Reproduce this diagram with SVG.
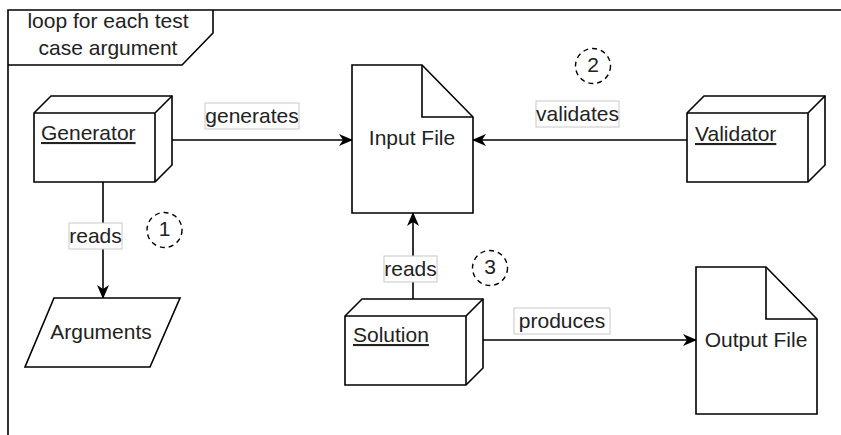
<svg xmlns="http://www.w3.org/2000/svg" width="841" height="435" viewBox="0 0 841 435">
<style>
.s{fill:#fff;stroke:#000;stroke-width:1.6;stroke-linejoin:miter}
.t{font-family:"Liberation Sans",Arial,sans-serif;font-size:21px;fill:#222}
.c{text-anchor:middle}
.u{text-decoration:underline}
.lb{fill:#fff;stroke:#c8c8c8;stroke-width:1}
.ln{fill:none;stroke:#000;stroke-width:1.6}
.dc{fill:none;stroke:#000;stroke-width:1.4;stroke-dasharray:5 4}
</style>
<defs>
<marker id="arr" viewBox="0 0 14 12" refX="13" refY="6" markerWidth="14" markerHeight="12" markerUnits="userSpaceOnUse" orient="auto">
<path d="M0,0 L14,6 L0,12 L4,6 Z" fill="#000"/>
</marker>
</defs>
<rect width="841" height="435" fill="#fff"/>
<g id="frame">
<path d="M8,435 L8,10 L841,10" class="ln" stroke-width="2"/>
<path d="M8,65 L182,65 L213,33 L213,10" class="ln"/>
<text class="t c" x="108" y="28">loop for each test</text>
<text class="t c" x="108" y="55">case argument</text>
</g>
<g id="connectors">
<path d="M172,140 L352,140" class="ln" marker-end="url(#arr)"/>
<path d="M687,140 L473,140" class="ln" marker-end="url(#arr)"/>
<path d="M103,182 L103,298" class="ln" marker-end="url(#arr)"/>
<path d="M413,299 L413,213" class="ln" marker-end="url(#arr)"/>
<path d="M483,340 L696,340" class="ln" marker-end="url(#arr)"/>
<rect class="lb" x="205" y="103" width="94" height="26"/>
<text class="t c" x="252" y="123">generates</text>
<rect class="lb" x="536" y="101" width="83" height="26"/>
<text class="t c" x="577.5" y="121">validates</text>
<rect class="lb" x="69" y="223" width="53" height="26"/>
<text class="t c" x="95.5" y="243">reads</text>
<rect class="lb" x="384" y="256" width="53" height="26"/>
<text class="t c" x="410.5" y="276">reads</text>
<rect class="lb" x="514" y="308" width="96" height="26"/>
<text class="t c" x="562" y="328">produces</text>
</g>
<g id="generator">
<path class="s" d="M34,113 L51,96 L172,96 L172,165 L155,182 L34,182 Z"/>
<path class="ln" d="M34,113 L155,113 L172,96 M155,113 L155,182"/>
<text class="t u" x="41" y="140">Generator</text>
</g>
<g id="validator">
<path class="s" d="M687,113 L704,96 L825,96 L825,165 L808,182 L687,182 Z"/>
<path class="ln" d="M687,113 L808,113 L825,96 M808,113 L808,182"/>
<text class="t u" x="695" y="141">Validator</text>
</g>
<g id="solution">
<path class="s" d="M345,316 L362,299 L483,299 L483,368 L466,385 L345,385 Z"/>
<path class="ln" d="M345,316 L466,316 L483,299 M466,316 L466,385"/>
<text class="t u" x="353" y="342">Solution</text>
</g>
<g id="inputfile">
<path class="s" d="M352,65 L422,65 L473,117 L473,213 L352,213 Z"/>
<path class="ln" d="M422,65 L422,117 L473,117"/>
<text class="t c" x="412" y="145">Input File</text>
</g>
<g id="outputfile">
<path class="s" d="M696,267 L766,267 L817,319 L817,414 L696,414 Z"/>
<path class="ln" d="M766,267 L766,319 L817,319"/>
<text class="t c" x="756" y="347">Output File</text>
</g>
<g id="arguments">
<path class="s" d="M54,298 L180,298 L150,367 L25,367 Z"/>
<text class="t c" x="101" y="339">Arguments</text>
</g>
<g id="step1">
<circle class="dc" cx="164.5" cy="230" r="17.5"/>
<text class="t c" x="164.5" y="236">1</text>
</g>
<g id="step2">
<circle class="dc" cx="593" cy="66" r="17.5"/>
<text class="t c" x="593" y="72">2</text>
</g>
<g id="step3">
<circle class="dc" cx="490" cy="268" r="17.5"/>
<text class="t c" x="490" y="274">3</text>
</g>
</svg>
